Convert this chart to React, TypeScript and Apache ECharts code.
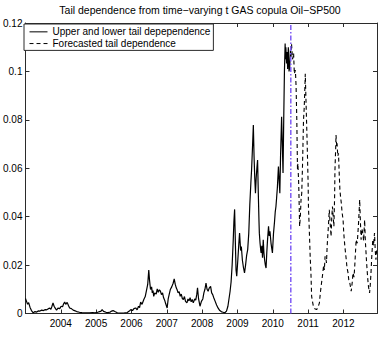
import React, { useEffect, useRef } from "react";
import * as echarts from "echarts";

const titleText = "Tail dependence from time\u2212varying t GAS copula Oil\u2212SP500";
const solidName = "Upper and lower tail depependence";
const forecastName = "Forecasted tail dependence";
const cutoffYear = 2010.51;

const solidYears = [
  2003.0, 2003.03, 2003.06, 2003.09, 2003.13, 2003.17, 2003.22, 2003.27, 2003.32, 2003.36,
  2003.41, 2003.46, 2003.51, 2003.56, 2003.6, 2003.65, 2003.69, 2003.72, 2003.75, 2003.78,
  2003.81, 2003.85, 2003.88, 2003.92, 2003.97, 2004.01, 2004.05, 2004.08, 2004.11, 2004.14,
  2004.18, 2004.22, 2004.25, 2004.3, 2004.35, 2004.39, 2004.45, 2004.53, 2004.6, 2004.7,
  2004.81, 2004.9, 2004.97, 2005.04, 2005.1, 2005.14, 2005.17, 2005.21, 2005.28, 2005.34,
  2005.4, 2005.44, 2005.48, 2005.53, 2005.6, 2005.7, 2005.8, 2005.88, 2005.94, 2005.98,
  2006.03, 2006.07, 2006.12, 2006.16, 2006.2, 2006.23, 2006.26, 2006.3, 2006.35, 2006.39,
  2006.43, 2006.46, 2006.49, 2006.51, 2006.54, 2006.57, 2006.59, 2006.61, 2006.63, 2006.66,
  2006.7, 2006.73, 2006.76, 2006.79, 2006.82, 2006.85, 2006.88, 2006.91, 2006.94, 2006.97,
  2007.01, 2007.04, 2007.07, 2007.1, 2007.14, 2007.18, 2007.21, 2007.24, 2007.27, 2007.29,
  2007.32, 2007.35, 2007.38, 2007.41, 2007.44, 2007.47, 2007.5, 2007.53, 2007.57, 2007.6,
  2007.63, 2007.66, 2007.69, 2007.72, 2007.75, 2007.79, 2007.82, 2007.85, 2007.87, 2007.9,
  2007.94, 2007.98, 2008.02, 2008.05, 2008.08, 2008.11, 2008.14, 2008.17, 2008.2, 2008.24,
  2008.27, 2008.3, 2008.33, 2008.37, 2008.41, 2008.45, 2008.5, 2008.55, 2008.6, 2008.65,
  2008.69, 2008.73, 2008.76, 2008.79, 2008.82, 2008.85, 2008.88, 2008.9, 2008.92, 2008.94,
  2008.96, 2008.98, 2009.01, 2009.04, 2009.06, 2009.09, 2009.11, 2009.14, 2009.17, 2009.2,
  2009.23, 2009.26, 2009.29, 2009.32, 2009.35, 2009.38, 2009.4, 2009.43, 2009.45, 2009.47,
  2009.49, 2009.51, 2009.53, 2009.55, 2009.57, 2009.59, 2009.61, 2009.62, 2009.64, 2009.66,
  2009.67, 2009.69, 2009.71, 2009.73, 2009.75, 2009.77, 2009.79, 2009.81, 2009.83, 2009.85,
  2009.88, 2009.9, 2009.92, 2009.95, 2009.97, 2009.99, 2010.02, 2010.05, 2010.07, 2010.09,
  2010.11, 2010.13, 2010.16, 2010.18, 2010.2, 2010.22, 2010.25, 2010.27, 2010.29, 2010.31,
  2010.33, 2010.35, 2010.36, 2010.37, 2010.39, 2010.41, 2010.42, 2010.44, 2010.46, 2010.48,
  2010.5, 2010.51,
];
const solidValues = [
  0.0062, 0.005, 0.0038, 0.0045, 0.0025, 0.0012, 0.0003, 0.0008, 0.0006, 0.0011,
  0.001, 0.0014, 0.0012, 0.0016, 0.0015, 0.002, 0.0022, 0.0017, 0.003, 0.0044,
  0.003, 0.002, 0.0014, 0.0022, 0.002, 0.003, 0.0028, 0.004, 0.0047, 0.0038,
  0.0046, 0.0032, 0.0023, 0.002, 0.0014, 0.0012, 0.0008, 0.0005, 0.0004, 0.0003,
  0.0003, 0.0004, 0.0003, 0.0005, 0.0008, 0.001, 0.0016, 0.0009, 0.0005, 0.0004,
  0.0006, 0.001, 0.0012, 0.0008, 0.0003, 0.0002, 0.0003, 0.0004, 0.001, 0.0016,
  0.0012, 0.002, 0.0023, 0.0015, 0.003, 0.0024, 0.0047, 0.0038, 0.0058, 0.007,
  0.0099, 0.012, 0.018, 0.014, 0.0099, 0.011, 0.0085, 0.0095, 0.0071, 0.0085,
  0.008, 0.0102, 0.0088, 0.0098, 0.0092, 0.0078, 0.0085, 0.0065, 0.0055, 0.004,
  0.0023, 0.006, 0.008, 0.0099, 0.011, 0.0125, 0.0143, 0.012, 0.0105, 0.0099,
  0.0085, 0.009, 0.0071, 0.008, 0.0062, 0.0058, 0.007, 0.005, 0.0044, 0.006,
  0.0052, 0.0065, 0.0048, 0.0058, 0.0044, 0.006, 0.0055, 0.008, 0.0106, 0.006,
  0.003, 0.005, 0.006, 0.0085, 0.01, 0.0126, 0.01, 0.0092, 0.0105, 0.0112,
  0.0085, 0.0078, 0.0065, 0.005, 0.0035, 0.0023, 0.0012, 0.0007, 0.0005, 0.0004,
  0.001, 0.003, 0.006, 0.009, 0.013, 0.02, 0.03, 0.038, 0.043, 0.03,
  0.018, 0.0154, 0.022, 0.029, 0.0332, 0.026, 0.0277, 0.022, 0.019, 0.0168,
  0.02, 0.024, 0.0264, 0.033, 0.045, 0.054, 0.0593, 0.07, 0.0779, 0.065,
  0.056, 0.0497, 0.056, 0.06, 0.0634, 0.05, 0.038, 0.0332, 0.029, 0.026,
  0.025, 0.028, 0.023, 0.0305, 0.025, 0.022, 0.02, 0.0188, 0.025, 0.03,
  0.036, 0.032, 0.034, 0.0291, 0.027, 0.025, 0.033, 0.038, 0.042, 0.0442,
  0.048, 0.052, 0.0607, 0.055, 0.0497, 0.065, 0.0813, 0.07, 0.058, 0.08,
  0.1, 0.1115, 0.105, 0.11, 0.1033, 0.108, 0.101, 0.11, 0.1, 0.1019,
  0.109, 0.106,
];

const forecastYears = [
  2010.51, 2010.53, 2010.56, 2010.59, 2010.61, 2010.64, 2010.66, 2010.68, 2010.7, 2010.71,
  2010.73, 2010.74, 2010.76, 2010.78, 2010.8, 2010.82, 2010.84, 2010.87, 2010.89, 2010.91,
  2010.92, 2010.94, 2010.95, 2010.97, 2010.98, 2011.0, 2011.01, 2011.03, 2011.04, 2011.06,
  2011.08, 2011.1, 2011.13, 2011.15, 2011.19, 2011.24, 2011.28, 2011.32, 2011.35, 2011.38,
  2011.41, 2011.44, 2011.46, 2011.48, 2011.5, 2011.52, 2011.54, 2011.57, 2011.6, 2011.62,
  2011.65, 2011.67, 2011.69, 2011.71, 2011.73, 2011.75, 2011.76, 2011.78, 2011.79, 2011.81,
  2011.82, 2011.84, 2011.86, 2011.88, 2011.9, 2011.92, 2011.94, 2011.96, 2011.99, 2012.01,
  2012.04, 2012.06, 2012.08, 2012.1, 2012.13, 2012.15, 2012.18, 2012.2, 2012.22, 2012.25,
  2012.27, 2012.3, 2012.32, 2012.34, 2012.36, 2012.39, 2012.41, 2012.43, 2012.46, 2012.48,
  2012.5, 2012.52, 2012.55, 2012.57, 2012.6, 2012.62, 2012.64, 2012.66, 2012.69, 2012.71,
  2012.74, 2012.76, 2012.78, 2012.8, 2012.83, 2012.85, 2012.88, 2012.9, 2012.92, 2012.94,
];
const forecastValues = [
  0.106, 0.1115, 0.105, 0.1074, 0.099, 0.1005, 0.0937, 0.08, 0.0593, 0.062,
  0.0552, 0.05, 0.036, 0.04, 0.047, 0.0497, 0.06, 0.08, 0.085, 0.094,
  0.099, 0.088, 0.0827, 0.072, 0.0662, 0.054, 0.0442, 0.036, 0.0318, 0.023,
  0.0168, 0.0071, 0.0045, 0.003, 0.002, 0.0016, 0.0025, 0.0044, 0.009, 0.0126,
  0.016, 0.02, 0.018, 0.0236, 0.023, 0.0209, 0.028, 0.035, 0.0428, 0.038,
  0.0318, 0.04, 0.0442, 0.04, 0.036, 0.048, 0.0593, 0.068, 0.0737, 0.069,
  0.0703, 0.065, 0.0662, 0.058, 0.0511, 0.048, 0.0456, 0.042, 0.0387, 0.033,
  0.0277, 0.025, 0.0222, 0.019, 0.0168, 0.014, 0.0126, 0.011, 0.0092, 0.013,
  0.0168, 0.015, 0.0195, 0.025, 0.0305, 0.029, 0.0332, 0.038, 0.047, 0.038,
  0.0305, 0.035, 0.0332, 0.03, 0.0387, 0.03, 0.025, 0.02, 0.014, 0.011,
  0.0085, 0.012, 0.0168, 0.023, 0.0305, 0.028, 0.0332, 0.026, 0.0222, 0.0264,
];

const xMin = 2003;
const xMax = 2012.95;
const yMin = 0;
const yMax = 0.12;

const FONT = "'Liberation Sans', Arial, Helvetica, sans-serif";
const AXIS_COLOR = "#2b2b2b";

export default function App() {
  const ref = useRef<HTMLDivElement>(null);

  useEffect(() => {
    if (!ref.current) return;
    const chart = echarts.init(ref.current, undefined, { renderer: "svg" });

    const baseX = {
      type: "value" as const,
      min: xMin,
      max: xMax,
      interval: 1,
      axisLine: { show: true, onZero: false, lineStyle: { color: AXIS_COLOR, width: 1 } },
      axisTick: { show: true, inside: true, length: 4, lineStyle: { color: AXIS_COLOR } },
      splitLine: { show: false },
    };
    const baseY = {
      type: "value" as const,
      min: yMin,
      max: yMax,
      interval: 0.02,
      axisLine: { show: true, onZero: false, lineStyle: { color: AXIS_COLOR, width: 1 } },
      axisTick: { show: true, inside: true, length: 4, lineStyle: { color: AXIS_COLOR } },
      splitLine: { show: false },
    };

    chart.setOption({
      animation: false,
      backgroundColor: "#ffffff",
      title: {
        text: titleText,
        left: 200,
        top: 4,
        textAlign: "center",
        padding: 0,
        textStyle: { fontFamily: FONT, fontSize: 10.5, fontWeight: "normal", color: "#000" },
      },
      legend: {
        orient: "vertical",
        left: 24,
        top: 24,
        data: [solidName, forecastName],
        selectedMode: false,
        itemWidth: 18,
        itemHeight: 8,
        itemGap: 0,
        padding: [2, 3, 1, 5],
        borderColor: AXIS_COLOR,
        borderWidth: 1,
        borderRadius: 0,
        backgroundColor: "#ffffff",
        itemStyle: { opacity: 0 },
        lineStyle: { width: 1 },
        textStyle: { fontFamily: FONT, fontSize: 10, color: "#000", lineHeight: 11.7 },
      },
      grid: { left: 22, right: 5, top: 23, bottom: 31.5, containLabel: false },
      xAxis: [
        {
          ...baseX,
          position: "bottom",
          axisLabel: {
            show: true,
            margin: 5,
            color: "#000",
            fontFamily: FONT,
            fontSize: 10,
            showMinLabel: false,
            showMaxLabel: false,
            formatter: (v: number) => (Number.isInteger(v) && v > xMin ? String(v) : ""),
          },
        },
        { ...baseX, position: "top", axisLabel: { show: false } },
      ],
      yAxis: [
        {
          ...baseY,
          position: "left",
          axisLabel: { show: true, margin: 3, color: "#000", fontFamily: FONT, fontSize: 10 },
        },
        { ...baseY, position: "right", axisLabel: { show: false } },
      ],
      series: [
        {
          name: solidName,
          type: "line",
          xAxisIndex: 0,
          yAxisIndex: 0,
          symbol: "none",
          data: solidYears.map((y, i) => [y, solidValues[i]]),
          lineStyle: { color: "#000", width: 1.2, type: "solid" },
          itemStyle: { color: "#000" },
        },
        {
          name: forecastName,
          type: "line",
          xAxisIndex: 0,
          yAxisIndex: 0,
          symbol: "none",
          data: forecastYears.map((y, i) => [y, forecastValues[i]]),
          lineStyle: { color: "#000", width: 1.1, type: [4, 3] },
          itemStyle: { color: "#000" },
        },
        {
          name: "cutoff",
          type: "line",
          xAxisIndex: 0,
          yAxisIndex: 0,
          symbol: "none",
          data: [
            [cutoffYear, yMin],
            [cutoffYear, yMax],
          ],
          lineStyle: { color: "#7f5cf5", width: 1.5, type: [5, 2, 1.5, 2] },
          itemStyle: { color: "#7f5cf5" },
        },
      ],
    });

    return () => chart.dispose();
  }, []);

  return (
    <div
      ref={ref}
      style={{ position: "fixed", left: 0, top: 0, width: 382, height: 345 }}
    />
  );
}
